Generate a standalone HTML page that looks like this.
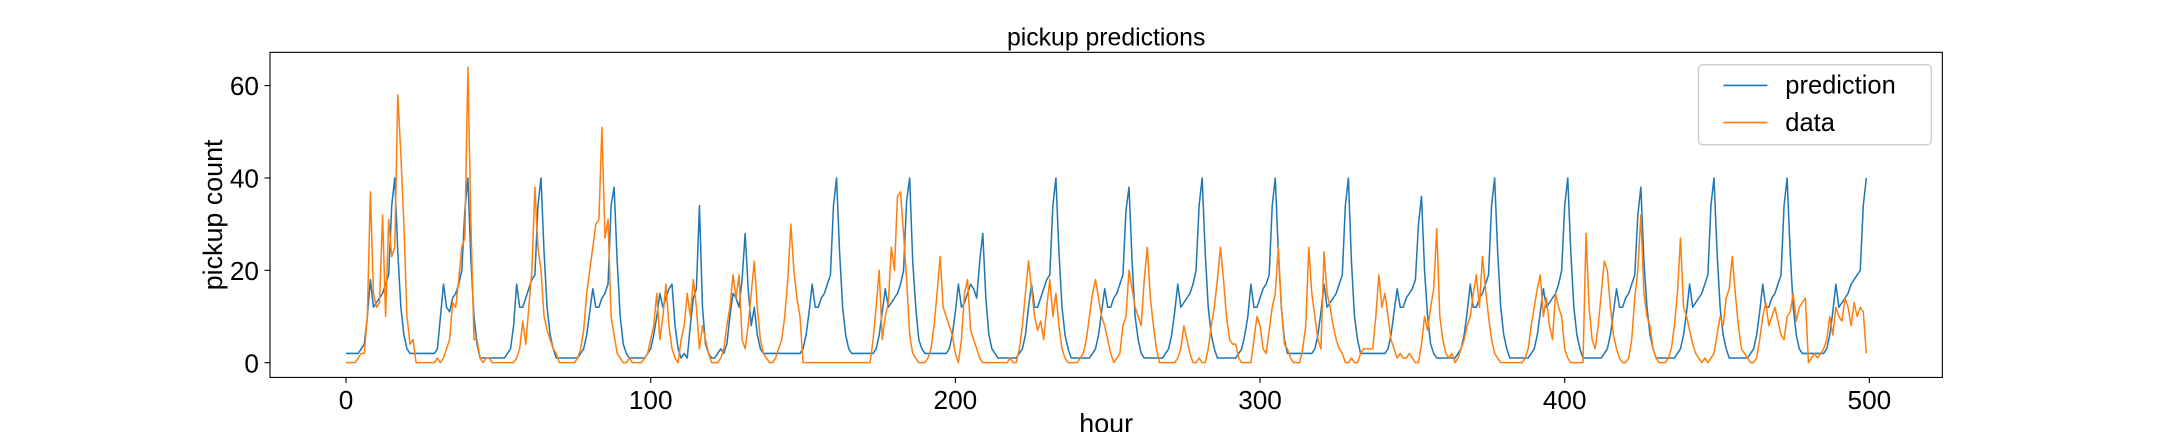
<!DOCTYPE html>
<html><head><meta charset="utf-8"><style>
html,body{margin:0;padding:0;background:#fff;}
svg text{font-family:"Liberation Sans","DejaVu Sans",sans-serif;fill:#000;}
</style></head><body>
<svg id="chart" width="2160" height="432" viewBox="0 0 1568 313.6" xmlns="http://www.w3.org/2000/svg">
<rect width="1568" height="313.6" fill="#fff"/>
<text x="803" y="33" font-size="18" text-anchor="middle">pickup predictions</text>
<g id="plot"></g>
<text x="803" y="314" font-size="19.5" text-anchor="middle">hour</text>
<text transform="translate(161,156) rotate(-90)" font-size="19.5" text-anchor="middle">pickup count</text>
<g>
<rect x="1233" y="47" width="169" height="58" rx="3" fill="#fff" fill-opacity="0.8" stroke="#ccc"/>
<line x1="1251" y1="62" x2="1283" y2="62" stroke="#1f77b4" stroke-width="1.2"/>
<text x="1296" y="68" font-size="18.5">prediction</text>
<line x1="1251" y1="89" x2="1283" y2="89" stroke="#ff7f0e" stroke-width="1.2"/>
<text x="1296" y="95" font-size="18.5">data</text>
</g>
</svg>
<script>
const xTicks=[0,100,200,300,400,500];
const yTicks=[0,20,40,60];
const prediction=[].concat(
[2,2,2,2,2,3,4,10,18,12,13,14,15,17,19,34,40,24,12,6,3,2,2,2],
[2,2,2,2,2,2,3,10,17,12,11,14,15,17,20,33,40,22,10,4,1,1,1,1],
[1,1,1,1,1,2,3,8,17,12,12,14,16,18,19,34,40,24,12,6,3,1,1,1],
[1,1,1,1,1,2,3,6,11,16,12,12,14,15,17,34,38,22,10,4,2,1,1,1],
[1,1,1,2,3,6,10,15,12,14,16,17,8,3,1,2,1,8,14,16,34,12,4,2],
[1,1,2,3,2,4,10,15,14,12,18,28,16,8,12,6,3,2,2,2,2,2,2,2],
[2,2,2,2,2,2,3,6,11,17,12,12,14,15,17,19,34,40,24,12,6,3,2,2],
[2,2,2,2,2,2,3,6,11,16,12,13,14,15,17,20,35,40,22,12,5,3,2,2],
[2,2,2,2,2,2,3,6,11,17,12,13,15,17,16,14,22,28,14,6,3,2,1,1],
[1,1,1,1,1,2,3,6,12,17,12,12,14,16,18,19,34,40,24,12,6,3,1,1],
[1,1,1,1,1,2,3,6,11,16,12,12,14,15,17,19,33,38,22,10,5,2,1,1],
[1,1,1,1,1,2,3,6,11,17,12,13,14,15,17,20,34,40,24,12,6,3,1,1],
[1,1,1,1,1,2,3,6,10,17,12,12,14,16,17,19,34,40,24,12,5,2,2,2],
[2,2,2,2,2,2,3,6,11,17,12,13,14,15,17,19,34,40,22,10,5,2,2,2],
[2,2,2,2,2,2,3,6,11,16,12,12,14,15,16,18,30,36,20,10,4,2,1,1],
[1,1,1,1,1,2,3,6,11,17,12,12,14,15,17,19,34,40,24,12,6,3,1,1],
[1,1,1,1,1,2,3,6,11,16,12,13,14,15,17,20,34,40,24,12,6,3,1,1],
[1,1,1,1,1,2,3,6,11,16,12,12,14,15,17,19,32,38,22,12,6,3,1,1],
[1,1,1,1,1,2,3,6,11,17,12,13,14,15,17,19,34,40,24,12,6,3,1,1],
[1,1,1,1,1,2,3,6,11,17,12,12,14,15,17,19,34,40,24,12,6,3,2,2],
[2,2,2,2,2,2,3,6,11,17,12,13,14,15,17,18,19,20,34,40]
);
const observed=[].concat(
[0,0,0,0,1,2,2,10,37,15,12,13,32,10,31,23,25,58,45,30,10,4,5,0],
[0,0,0,0,0,0,1,0,1,3,5,13,12,18,25,27,64,30,5,5,1,0,1,1],
[0,0,0,0,0,0,0,0,1,3,9,4,12,20,38,25,20,10,7,5,3,2,0,0],
[0,0,0,0,1,3,7,15,20,25,30,31,51,27,31,10,6,2,1,0,0,1,0,0],
[0,0,1,2,5,8,15,5,10,17,8,3,1,0,5,8,15,10,18,12,3,8,5,2],
[0,0,0,1,3,8,12,19,14,19,5,3,8,15,22,12,5,2,1,0,0,1,3,5],
[10,18,30,20,14,10,0,0,0,0,0,0,0,0,0,0,0,0,0,0,0,0,0,0],
[0,0,0,0,0,5,12,20,5,10,13,25,20,36,37,28,18,6,2,1,0,0,0,1],
[3,8,15,23,12,10,8,6,2,0,5,15,18,7,5,3,1,0,0,0,0,0,0,0],
[0,0,1,0,0,3,8,15,22,16,10,7,9,5,12,18,10,15,8,3,1,0,0,0],
[0,1,2,5,10,15,18,14,10,8,5,2,0,1,2,8,10,20,16,12,10,8,18,25],
[14,8,3,0,0,0,0,0,0,1,3,8,5,2,0,0,1,0,0,3,8,12,18,25],
[18,10,5,4,4,1,0,0,0,0,5,10,8,3,2,7,12,15,25,12,4,3,1,0],
[0,0,3,8,25,15,10,5,3,24,15,12,8,5,3,2,0,0,1,0,0,2,3,3],
[3,3,10,19,12,15,10,5,3,1,2,1,1,2,1,0,0,4,10,7,12,16,29,10],
[5,2,1,2,0,1,3,5,8,10,15,19,12,23,16,10,5,2,1,0,0,0,0,0],
[0,0,0,1,3,8,12,16,19,10,14,8,5,15,12,10,3,1,0,0,0,0,0,28],
[12,5,3,8,15,22,20,12,6,3,1,0,0,1,5,14,20,32,15,10,8,3,1,0],
[0,0,1,3,8,15,27,12,10,7,4,2,1,0,1,0,1,2,6,10,8,14,16,23],
[15,8,3,2,1,0,0,1,5,10,13,8,10,12,9,6,5,10,11,15,9,12,13,14],
[0,1,2,1,2,3,5,10,6,12,10,9,14,12,8,13,10,12,11,2]
);
const NS="http://www.w3.org/2000/svg";
const L=196,R=1410,T=38,B=274;
const xMin=-24.95,xMax=523.95,yMin=-3.2,yMax=67.2;
function sx(v){return L+(v-xMin)/(xMax-xMin)*(R-L);}
function sy(v){return B-(v-yMin)/(yMax-yMin)*(B-T);}
const g=document.getElementById('plot');
function mk(tag,attrs){const e=document.createElementNS(NS,tag);for(const k in attrs)e.setAttribute(k,attrs[k]);g.appendChild(e);return e;}
function series(arr,color,name){
  const pts=arr.map((v,i)=>sx(i).toFixed(2)+','+sy(v).toFixed(2)).join(' ');
  const p=mk('polyline',{points:pts,fill:'none',stroke:color,'stroke-width':1.1,'stroke-linejoin':'round'});
  
  
}
series(prediction,'#1f77b4','prediction-line');
series(observed,'#ff7f0e','data-line');
const frame=mk('rect',{x:L,y:T,width:R-L,height:B-T,fill:'none',stroke:'#000','stroke-width':0.8});


xTicks.forEach(t=>{
  const x=sx(t);
  const tk=mk('line',{x1:x,y1:B,x2:x,y2:B+4,stroke:'#000','stroke-width':0.8});
  
  
  const tx=mk('text',{x:x,y:B+23,'font-size':19,'text-anchor':'middle'});
  tx.textContent=t;
  
  
});
yTicks.forEach(t=>{
  const y=sy(t);
  const tk=mk('line',{x1:L-4,y1:y,x2:L,y2:y,stroke:'#000','stroke-width':0.8});
  
  
  const tx=mk('text',{x:L-8,y:y+7,'font-size':19,'text-anchor':'end'});
  tx.textContent=t;
  
  
});
</script>
</body></html>
